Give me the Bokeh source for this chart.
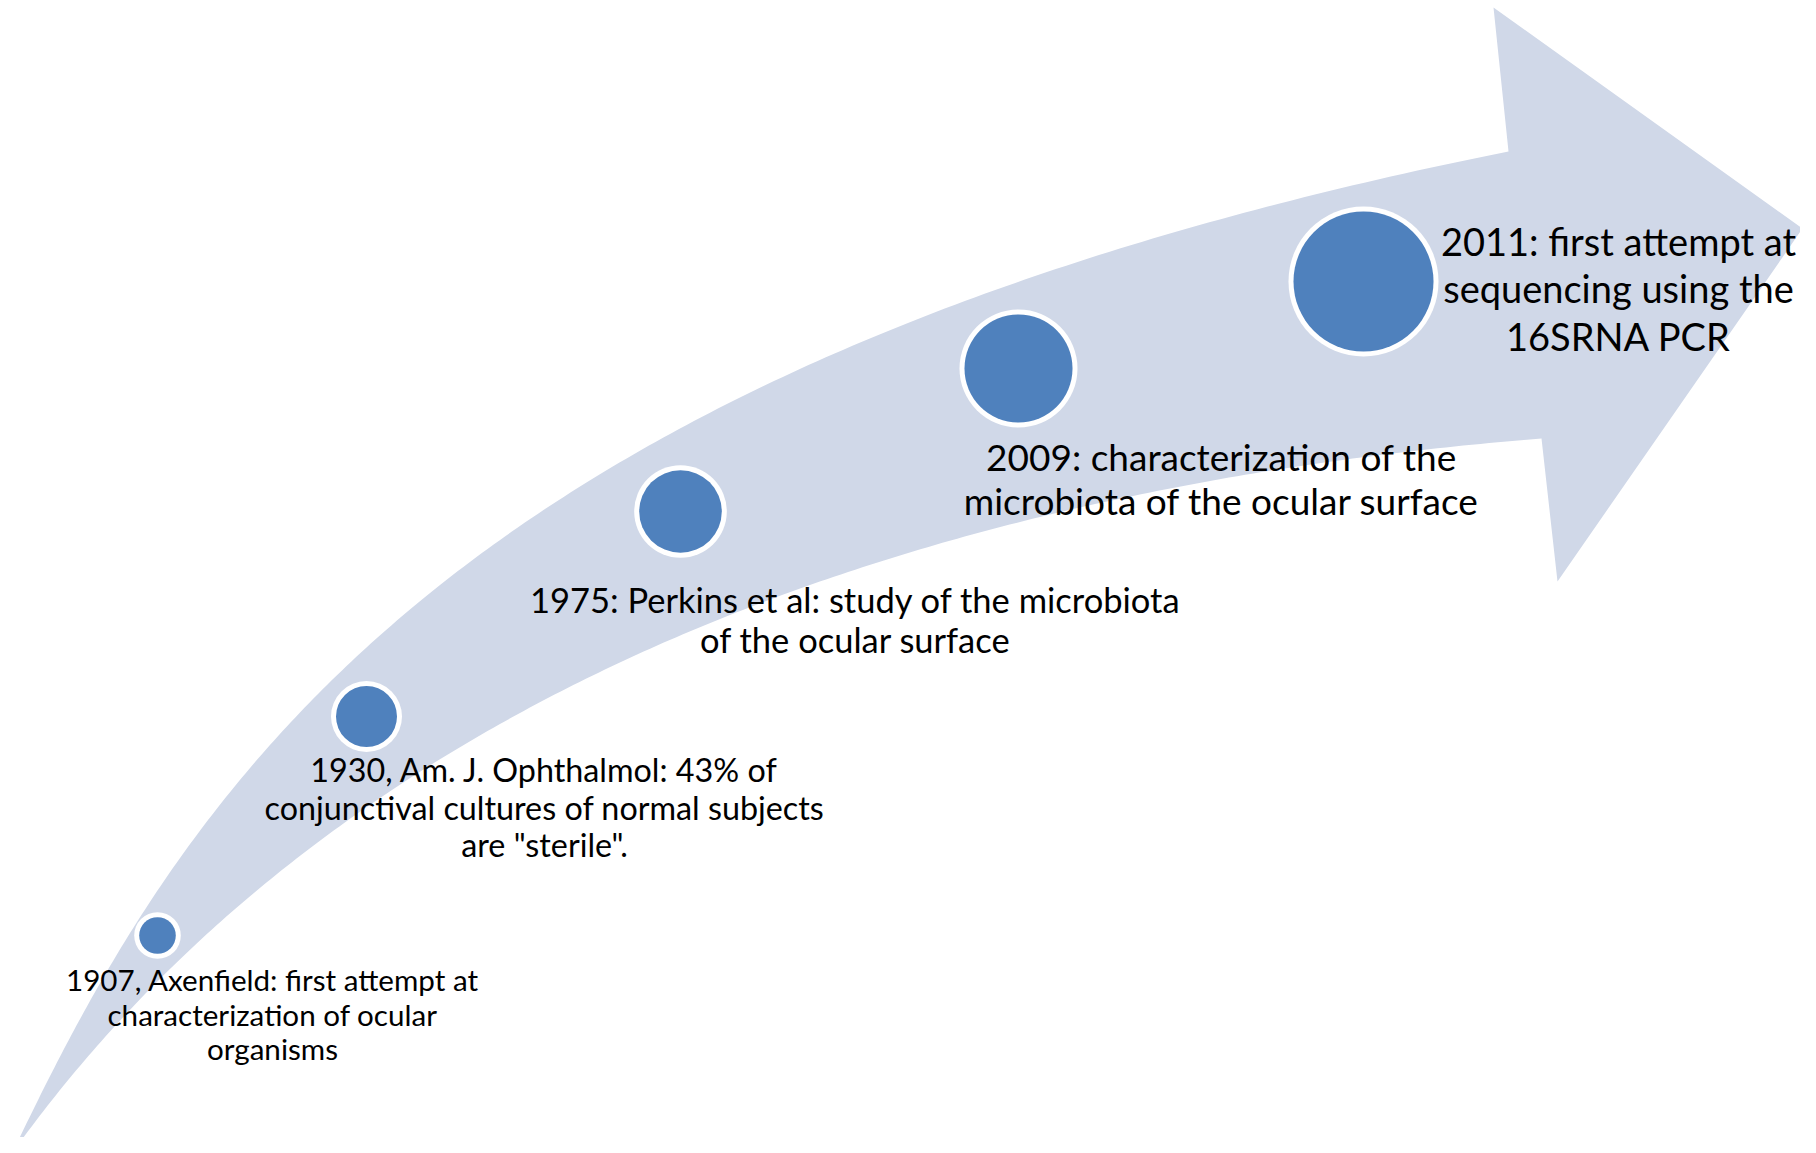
import numpy as np
from bokeh.plotting import figure
from bokeh.models import Range1d, ColumnDataSource
from bokeh.core.properties import value
from bokeh.embed import file_html
from bokeh.resources import INLINE

# ---------------- data ----------------
years = [1907, 1930, 1975, 2009, 2011]
descriptions = [
    "1907, Axenfield: first attempt at\ncharacterization of ocular\norganisms",
    "1930, Am. J. Ophthalmol: 43% of\nconjunctival cultures of normal subjects\nare \"sterile\".",
    "1975: Perkins et al: study of the microbiota\nof the ocular surface",
    "2009: characterization of the\nmicrobiota of the ocular surface",
    "2011: first attempt at\nsequencing using the\n16SRNA PCR",
]

# ---------------- layout (pixel space of the picture) ----------------
marker_x = [157, 366, 680, 1018, 1363]
marker_y = [935, 716, 511, 368, 281]
marker_r = [18.3, 30.5, 41.3, 54, 70]
ring_w = 5

label_cx = [272, 544, 855, 1221, 1618]
label_y0 = [979, 769, 599, 456, 240]
label_lh = [34.5, 37.7, 40, 43.5, 47.5]
label_px = [29.6, 32.3, 34.5, 37, 38]

BAND = "#D0D8E8"
DOT = "#4F81BD"
FONT = "Lato"


def bezier(ctrl, n=240):
    P = np.array(ctrl, dtype=float)
    t = np.linspace(0, 1, n)[:, None]
    return ((1 - t) ** 3) * P[0] + 3 * ((1 - t) ** 2) * t * P[1] + 3 * (1 - t) * (t ** 2) * P[2] + (t ** 3) * P[3]


# arrow body geometry
outer = bezier([(12, 1152), (180, 800), (435, 365), (1508, 151)])
inner = bezier([(12, 1152), (313, 732), (841, 494), (1541, 438)])
head = np.array([(1493, 7), (1802, 228), (1557, 581)], dtype=float)
shape = np.vstack([outer, head, inner[::-1]])

p = figure(width=1800, height=1137, output_backend="svg", toolbar_location=None,
           x_range=Range1d(0, 1800), y_range=Range1d(1137, 0),
           x_axis_type=None, y_axis_type=None, min_border=0,
           background_fill_color="white", border_fill_color="white")
p.grid.visible = False
p.outline_line_color = None

p.patch(shape[:, 0], shape[:, 1], fill_color=BAND, line_color=None)

src = ColumnDataSource(dict(
    x=marker_x, y=marker_y,
    r_out=[r + ring_w for r in marker_r], r_in=marker_r,
    year=years,
))
p.circle(x="x", y="y", radius="r_out", source=src, fill_color="white", line_color=None)
p.circle(x="x", y="y", radius="r_in", source=src, fill_color=DOT, line_color=None)

tx, ty, tt, ts = [], [], [], []
for i, desc in enumerate(descriptions):
    for j, line in enumerate(desc.split("\n")):
        tx.append(label_cx[i])
        ty.append(label_y0[i] + j * label_lh[i])
        tt.append(line)
        ts.append(f"{label_px[i]}px")
tsrc = ColumnDataSource(dict(x=tx, y=ty, text=tt, size=ts))
p.text(x="x", y="y", text="text", source=tsrc, text_align="center",
       text_baseline="alphabetic", text_font=value(FONT), text_font_size="size",
       text_color="black")

open("out.html", "w").write(file_html(p, INLINE))
